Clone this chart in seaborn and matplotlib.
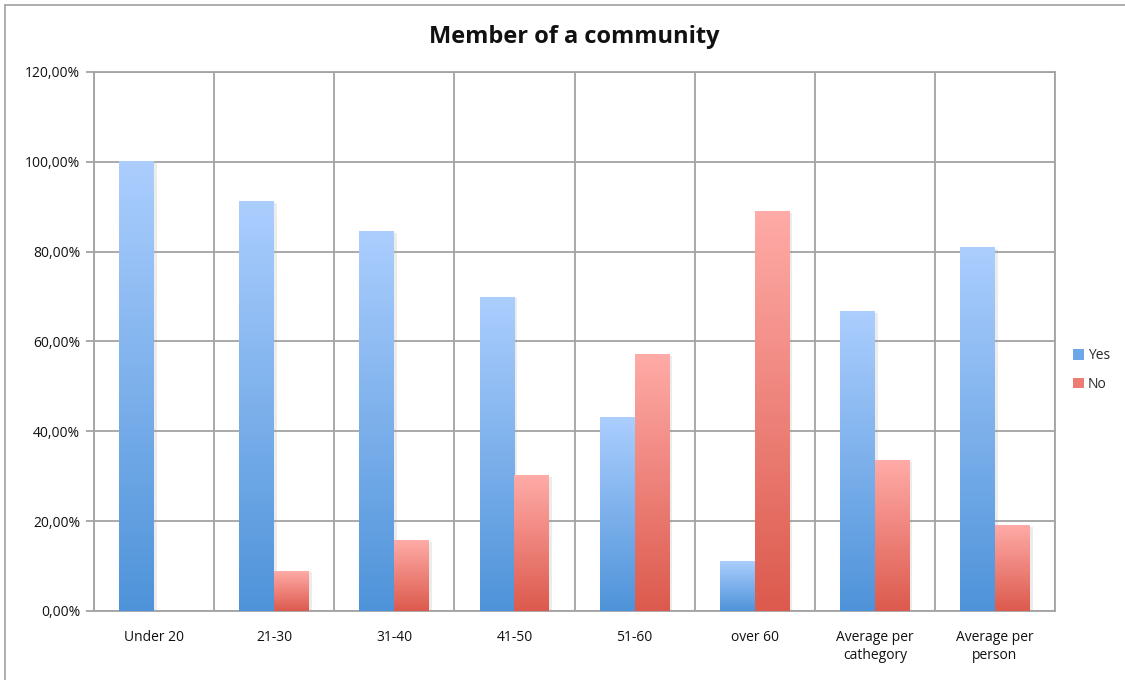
import numpy as np
import pandas as pd
import seaborn as sns
import matplotlib
matplotlib.use("Agg")
import matplotlib.pyplot as plt
from matplotlib.colors import LinearSegmentedColormap
from matplotlib.patches import Patch
from matplotlib.lines import Line2D
from matplotlib.ticker import FuncFormatter, FixedLocator
import matplotlib.patheffects as pe

# Survey answers: share of respondents who are members of a community
categories = ["Under 20", "21-30", "31-40", "41-50", "51-60", "over 60",
              "Average per\ncathegory", "Average per\nperson"]
yes_share = [1.000, 0.911, 0.844, 0.699, 0.430, 0.111, 0.666, 0.809]
no_share = [0.000, 0.089, 0.156, 0.301, 0.570, 0.889, 0.334, 0.191]
series = ["Yes", "No"]

df = pd.DataFrame({
    "category": categories * 2,
    "answer": ["Yes"] * len(categories) + ["No"] * len(categories),
    "share": yes_share + no_share,
})

sns.set_theme(style="white")
plt.rcParams["font.family"] = ["Open Sans", "DejaVu Sans"]

grid_col = "#a3a3a3"
grads = {
    "Yes": ("#abcefe", "#4e93d9"),
    "No": ("#ffaba7", "#dc5a4d"),
}

fig = plt.figure(figsize=(11.25, 6.8), dpi=100)
ax = fig.add_axes([94 / 1125, 1 - 611 / 680, (1055 - 94) / 1125, (611 - 72) / 680])

sns.barplot(data=df, x="category", y="share", hue="answer", hue_order=series,
            order=categories, width=0.58, gap=0, palette=[grads["Yes"][1], grads["No"][1]],
            ax=ax, legend=False, saturation=1)

ax.set_xlim(-0.5, len(categories) - 0.5)
ax.set_ylim(0, 1.2)

# Vertical gradient fill on every bar, light at the top and darker at the base
for container, name in zip(ax.containers, series):
    cmap = LinearSegmentedColormap.from_list(name, [grads[name][1], grads[name][0]])
    for bar in container:
        h = bar.get_height()
        if h <= 0:
            bar.set_visible(False)
            continue
        x0, w = bar.get_x(), bar.get_width()
        bar.set_edgecolor("none")
        bar.set_zorder(2)
        bar.set_path_effects([pe.SimplePatchShadow(offset=(2, -1), shadow_rgbFace="#999999", alpha=0.18),
                              pe.Normal()])
        grad = np.linspace(0, 1, 256).reshape(-1, 1)
        ax.imshow(grad, cmap=cmap, origin="lower", aspect="auto",
                  extent=[x0, x0 + w, 0, h], zorder=3, interpolation="bicubic")

ax.set_xlim(-0.5, len(categories) - 0.5)
ax.set_ylim(0, 1.2)

# Axes styling: grey frame, gridlines at category borders and every 20 %
ax.set_axisbelow(True)
ax.yaxis.set_major_locator(FixedLocator(np.arange(0, 1.21, 0.2)))
ax.yaxis.set_major_formatter(FuncFormatter(lambda v, _: f"{v * 100:.2f}%".replace(".", ",")))
ax.xaxis.set_minor_locator(FixedLocator(np.arange(-0.5, len(categories), 1.0)))
ax.grid(True, axis="y", which="major", color=grid_col, linewidth=1.3)
ax.grid(True, axis="x", which="minor", color=grid_col, linewidth=1.3)
ax.grid(False, axis="x", which="major")
ax.tick_params(axis="x", which="major", length=0, pad=14, labelsize=10, colors="#111111")
ax.tick_params(axis="x", which="minor", length=5, width=1.3, color=grid_col, direction="out")
ax.tick_params(axis="y", which="major", length=6, width=1.3, color=grid_col, direction="out",
               labelsize=10, pad=4, labelcolor="#111111")
ax.tick_params(left=True, bottom=True)
for s in ax.spines.values():
    s.set_color(grid_col)
    s.set_linewidth(1.3)
ax.set_xlabel("")
ax.set_ylabel("")

ax.set_title("Member of a community", fontsize=17, fontweight="bold", color="#111111", pad=21)

handles = [Patch(facecolor="#6ca7ea", edgecolor="none", label="Yes"),
           Patch(facecolor="#ec7c74", edgecolor="none", label="No")]
fig.legend(handles=handles, loc="center left", bbox_to_anchor=(1060 / 1125, 1 - 370 / 680),
           frameon=False, fontsize=10, handlelength=0.8, handleheight=0.8, handletextpad=0.3,
           labelspacing=1.0)

# Chart frame on the left and top edges
fig.add_artist(Line2D([5 / 1125, 5 / 1125], [0, 1 - 5 / 680], transform=fig.transFigure,
                      color="#a8a8a8", linewidth=1.3))
fig.add_artist(Line2D([5 / 1125, 1], [1 - 5 / 680, 1 - 5 / 680], transform=fig.transFigure,
                      color="#a8a8a8", linewidth=1.3))

fig.savefig("out.png", dpi=100)
